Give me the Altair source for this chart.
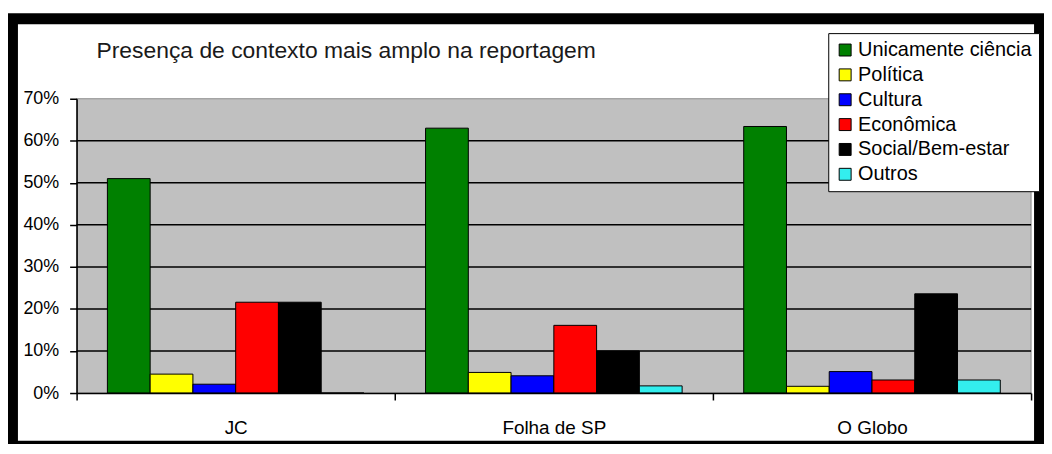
import altair as alt
import pandas as pd

# ---- data ----
categories = ["JC", "Folha de SP", "O Globo"]
series = ["Unicamente ciência", "Política", "Cultura", "Econômica", "Social/Bem-estar", "Outros"]
colors = ["#008000", "#FFFF00", "#0000FF", "#FF0000", "#000000", "#33EEEE"]
jc_values = [0.510, 0.045, 0.021, 0.216, 0.216, 0.0]
folha_values = [0.630, 0.049, 0.041, 0.161, 0.100, 0.017]
globo_values = [0.634, 0.016, 0.051, 0.031, 0.236, 0.031]
y_ticks = [0.0, 0.1, 0.2, 0.3, 0.4, 0.5, 0.6, 0.7]
title_text = "Presença de contexto mais amplo na reportagem"

rows = []
for cat, vals in zip(categories, [jc_values, folha_values, globo_values]):
    for s, v in zip(series, vals):
        rows.append({"jornal": cat, "tema": s, "valor": v})
df = pd.DataFrame(rows)
grid_df = pd.DataFrame({"v": [v for v in y_ticks if 0 < v < max(y_ticks)]})
one = pd.DataFrame({"k": [0]})

W, H = 960, 296
FONT = "Liberation Sans"

# decorative frame (black border, white inner) and gray plot background
outer = alt.Chart(one).mark_rect(fill="black").encode(
    x=alt.value(-69), x2=alt.value(973), y=alt.value(-86), y2=alt.value(360))
inner = alt.Chart(one).mark_rect(fill="white").encode(
    x=alt.value(-59), x2=alt.value(963), y=alt.value(-75), y2=alt.value(344))
plotbg = alt.Chart(one).mark_rect(fill="#C0C0C0", stroke="#8c8c8c", strokeWidth=1).encode(
    x=alt.value(0), x2=alt.value(W), y=alt.value(0), y2=alt.value(H))

yscale = alt.Scale(domain=[0, max(y_ticks)], nice=False)
yaxis = alt.Axis(values=y_ticks, format=".0%", title=None, labelFontSize=18,
                 labelFont=FONT, labelColor="black", tickSize=7, labelPadding=11,
                 domainColor="black", tickColor="black", domainWidth=1.5,
                 tickWidth=1.5, grid=False, zindex=2)

grid = alt.Chart(grid_df).mark_rule(color="black", strokeWidth=1.5).encode(
    y=alt.Y("v:Q", scale=yscale, axis=yaxis))

bars = alt.Chart(df).mark_bar(stroke="black", strokeWidth=1).encode(
    x=alt.X("jornal:N", sort=categories,
            scale=alt.Scale(paddingInner=0, paddingOuter=0),
            axis=alt.Axis(title=None, labelAngle=0, labelFontSize=19, labelFont=FONT,
                          labelColor="black", tickBand="extent", tickSize=7,
                          labelPadding=19, domainColor="black", tickColor="black",
                          domainWidth=1.5, tickWidth=1.5, grid=False, zindex=2)),
    xOffset=alt.XOffset("tema:N", sort=series,
                        scale=alt.Scale(paddingInner=0, paddingOuter=0.72)),
    y=alt.Y("valor:Q", scale=yscale, axis=yaxis),
    color=alt.Color("tema:N", sort=series, scale=alt.Scale(domain=series, range=colors),
                    legend=alt.Legend(title=None, orient="none", legendX=756, legendY=-66,
                                      fillColor="white", strokeColor="black", padding=7,
                                      labelFontSize=20, labelFont=FONT, labelColor="black",
                                      labelLimit=400,
                                      symbolType="square", symbolSize=144,
                                      symbolStrokeColor="black", symbolStrokeWidth=1,
                                      symbolOpacity=1, rowPadding=5, labelOffset=3)),
)

chart = alt.layer(outer, inner, plotbg, grid, bars).properties(
    width=W, height=H,
    title=alt.TitleParams(title_text, anchor="start", frame="group", fontSize=23,
                          font=FONT, fontWeight="normal", color="#1a1a1a",
                          baseline="alphabetic", dx=20, offset=-68),
    autosize=alt.AutoSizeParams(type="none"),
    padding={"left": 69, "top": 90, "right": 13, "bottom": 50},
).configure_view(stroke=None).configure(background="white")

chart.save("out.html", embed_options={"renderer": "svg", "actions": False})
